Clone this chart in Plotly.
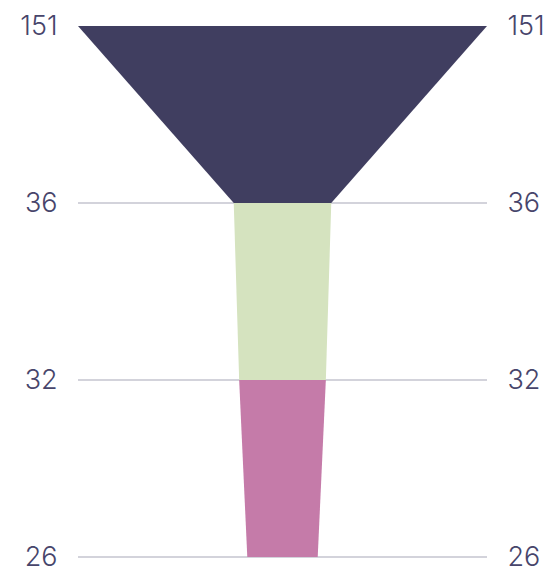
import plotly.graph_objects as go

stages = ["151", "36", "32", "26"]
values = [151, 36, 32, 26]
colors = ["#403e60", "#d5e3bf", "#c57ba9"]

fig = go.Figure()
pos = list(range(len(values)))
for i in range(len(values) - 1):
    a, b = values[i], values[i + 1]
    xs = [-a / 2, a / 2, b / 2, -b / 2, -a / 2]
    ys = [pos[i], pos[i], pos[i + 1], pos[i + 1], pos[i]]
    fig.add_trace(go.Scatter(x=xs, y=ys, fill="toself", fillcolor=colors[i],
                             mode="lines", line=dict(width=0, color=colors[i]),
                             hoverinfo="skip", showlegend=False, cliponaxis=False))
fig.add_trace(go.Scatter(x=[0], y=[0], yaxis="y2", mode="markers",
                         marker=dict(opacity=0), showlegend=False, hoverinfo="skip"))

font = dict(family="Inter, sans-serif", size=27, color="#47456b", weight=300)
yax = dict(range=[3.006, 0], tickmode="array", tickvals=pos, ticktext=stages,
           showgrid=True, gridcolor="#d3d3db", gridwidth=1.5, zeroline=False,
           showline=False, ticks="outside", ticklen=14, tickcolor="rgba(0,0,0,0)",
           tickfont=font, fixedrange=True, automargin=False,
           ticklabeloverflow="allow")
fig.update_layout(
    width=557, height=569,
    margin=dict(l=78, r=70, t=26, b=11, autoexpand=False),
    paper_bgcolor="white", plot_bgcolor="white",
    xaxis=dict(range=[-values[0] / 2, values[0] / 2], visible=False, showgrid=False,
               automargin=False),
    yaxis=yax,
    yaxis2=dict(**{**yax, "showgrid": False}, overlaying="y", side="right"),
)
fig.write_html("out.html", config={"displayModeBar": False},
               post_script="document.body.style.margin='0';")
